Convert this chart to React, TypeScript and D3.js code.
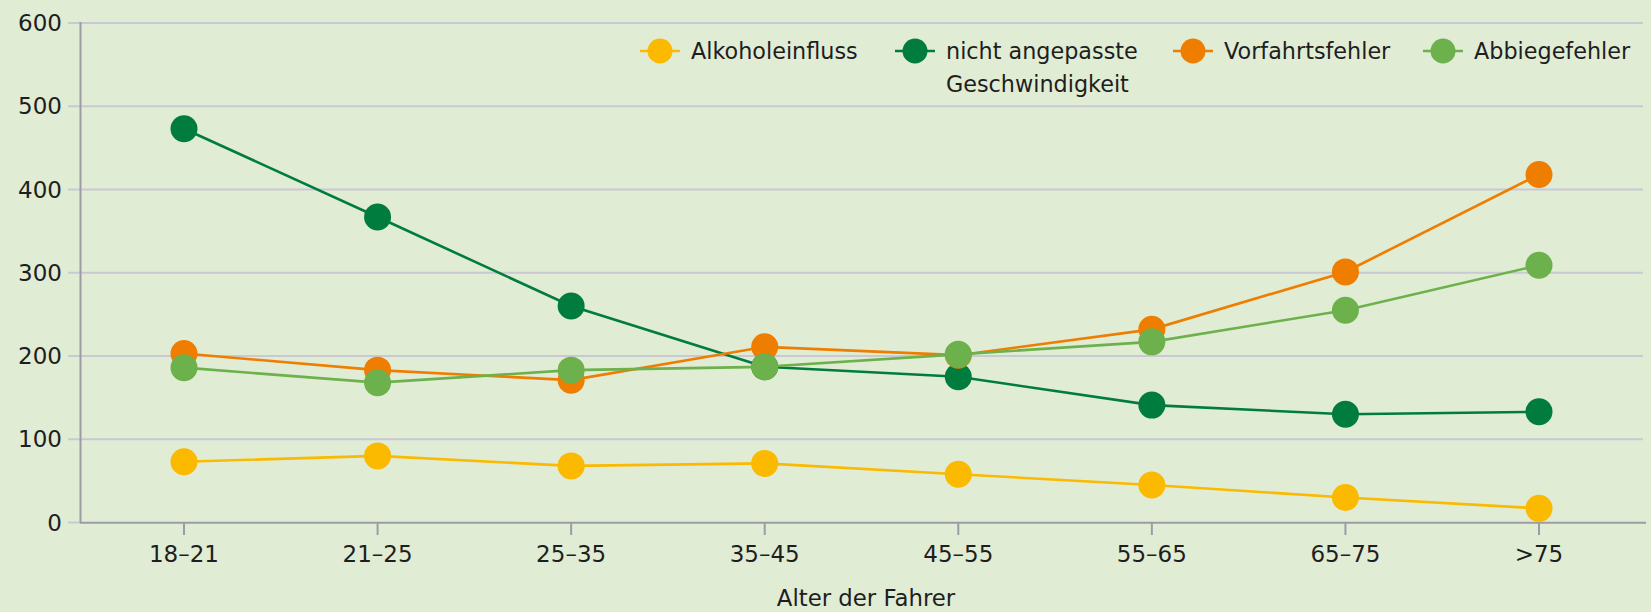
import React from "react";
import * as d3 from "d3";

const categories = ["18–21", "21–25", "25–35", "35–45", "45–55", "55–65", "65–75", ">75"];
const alkohol = [73, 80, 68, 71, 58, 45, 30, 17];
const geschwindigkeit = [473, 367, 260, 187, 175, 141, 130, 133];
const vorfahrt = [203, 183, 171, 211, 201, 232, 301, 418];
const abbiegen = [186, 168, 183, 187, 202, 217, 255, 309];
const yTicks = [0, 100, 200, 300, 400, 500, 600];

const seriesNames = ["Alkoholeinfluss", "nicht angepasste\nGeschwindigkeit", "Vorfahrtsfehler", "Abbiegefehler"];
const seriesColors = ["#fbb900", "#007c3e", "#ee7d00", "#6cb14b"];
const seriesValues = [alkohol, geschwindigkeit, vorfahrt, abbiegen];
const legendX = [660, 915, 1193, 1443];

const W = 1651;
const H = 612;
const FONT = "'DejaVu Sans', sans-serif";

export default function App() {
  const x = d3.scalePoint<string>().domain(categories).range([184, 1539]);
  const y = d3.scaleLinear().domain([0, 600]).range([522.5, 23]);
  const line = d3
    .line<number>()
    .x((_, i) => x(categories[i]) as number)
    .y((d) => y(d));

  return (
    <svg
      width={W}
      height={H}
      style={{ position: "absolute", left: 0, top: 0 }}
      xmlns="http://www.w3.org/2000/svg"
    >
      <rect x={0} y={0} width={W} height={H} fill="#e1ecd5" />
      {yTicks.map((t) => (
        <g key={t}>
          <line x1={68} x2={t > 0 ? 1643 : 81} y1={y(t)} y2={y(t)} stroke="#c9c8d3" strokeWidth={2} />
          <text
            x={62}
            y={y(t)}
            textAnchor="end"
            dominantBaseline="central"
            fontFamily={FONT}
            fontSize={23}
            fill="#1e1e1e"
          >
            {t}
          </text>
        </g>
      ))}
      <line x1={80.5} x2={80.5} y1={22} y2={523} stroke="#9c9ca2" strokeWidth={2} />
      <line x1={80} x2={1646} y1={522.7} y2={522.7} stroke="#9c9ca2" strokeWidth={2} />
      {categories.map((c) => (
        <g key={c}>
          <line x1={x(c)} x2={x(c)} y1={522} y2={535} stroke="#9c9ca2" strokeWidth={2} />
          <text
            x={x(c)}
            y={554}
            textAnchor="middle"
            dominantBaseline="central"
            fontFamily={FONT}
            fontSize={23}
            fill="#1e1e1e"
          >
            {c}
          </text>
        </g>
      ))}
      <text x={866} y={606} textAnchor="middle" fontFamily={FONT} fontSize={22.8} fill="#1e1e1e">
        Alter der Fahrer
      </text>
      {seriesValues.map((vals, si) => (
        <g key={si}>
          <path d={line(vals) || ""} fill="none" stroke={seriesColors[si]} strokeWidth={2.6} />
          {vals.map((v, i) => (
            <circle key={i} cx={x(categories[i])} cy={y(v)} r={13.5} fill={seriesColors[si]} />
          ))}
        </g>
      ))}
      {seriesNames.map((name, si) => (
        <g key={name}>
          <line
            x1={legendX[si] - 20}
            x2={legendX[si] + 20}
            y1={51}
            y2={51}
            stroke={seriesColors[si]}
            strokeWidth={2.5}
          />
          <circle cx={legendX[si]} cy={51} r={12.5} fill={seriesColors[si]} />
          {name.split("\n").map((ln, li) => (
            <text
              key={li}
              x={legendX[si] + 31}
              y={51 + li * 33}
              dominantBaseline="central"
              fontFamily={FONT}
              fontSize={22.3}
              fill="#1e1e1e"
            >
              {ln}
            </text>
          ))}
        </g>
      ))}
    </svg>
  );
}
